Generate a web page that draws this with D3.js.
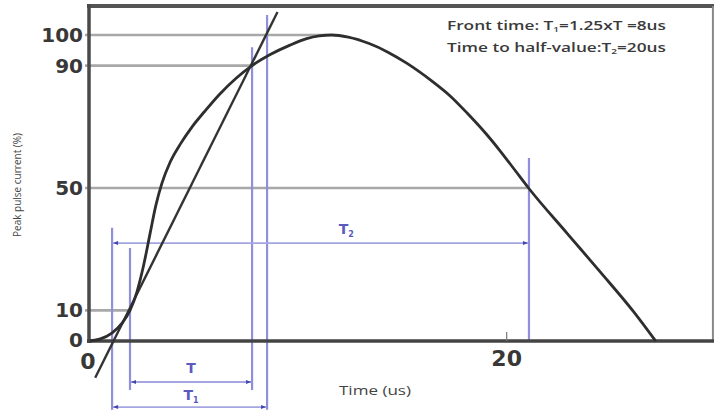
<!DOCTYPE html>
<html><head><meta charset="utf-8">
<script src="https://cdn.jsdelivr.net/npm/d3@7"></script>
<style>body{margin:0;background:#fff}svg{display:block}</style>
</head><body>
<svg id="c" width="714" height="415"></svg>
<script>
// ---- data ----
const timeTicks = [0, 20];
const currentTicks = [0, 10, 50, 90, 100];
const pulseTime    = [0, 0.5, 1.05, 1.55, 1.92, 2.25, 2.55, 2.88, 3.15, 3.45, 3.85, 4.35, 4.9, 5.5, 6.2, 7.0, 7.78, 8.65, 9.6, 10.4, 11.0, 11.6, 12.4, 13.4, 14.3, 15.2, 16.4, 17.3, 18.1, 19.0, 19.7, 20.4, 21.05, 22.9, 24.5, 26.1, 27.15];
const pulseCurrent = [0, 0.7, 2.6, 5.9, 10, 16, 24, 35, 44, 51.5, 58.5, 64.5, 70, 75, 80.5, 85.8, 90, 93.6, 96.7, 98.8, 99.7, 100, 99.3, 97.2, 94.4, 90.8, 85, 80, 74.5, 67.8, 62, 55.8, 50, 35.2, 22.5, 9.5, 0];
const tangentTime = [0.25, 9.0];
const tangentCurrent = [-12, 107.5];
const gridLevels = [100, 90, 50, 10];
const gridEnds = [11.3, 7.78, 21.07, 1.92];
const markerTimes = [1.06, 1.92, 7.78, 8.5, 21.07];
const markerTops = [37, 30.4, 96, 106.5, 59.8];
const markerBottoms = [-22.5, -16, -16, -22.5, 0];
const spanNames = ["T", "T", "T"];
const spanSubs = ["2", "", "1"];
const spanStart = [1.06, 1.92, 1.06];
const spanEnd = [21.07, 7.78, 8.5];
const spanLevel = [32, -13.4, -21.6];
const labelTime = [12.3, 4.85, 4.85];
const labelLevel = [36.5, -8.7, -17.7];
const noteLines = [["Front time: T", "1", "=1.25xT =8us"], ["Time to half-value:T", "2", "=20us"]];
const xTitle = "Time (us)";
const yTitle = "Peak pulse current (%)";

// ---- scales ----
const svg = d3.select("#c");
const x = d3.scaleLinear().domain([0, 30]).range([90, 715]);
const y = d3.scaleLinear().domain([0, 100]).range([341, 35]);
const blue = "#8f8fdc";

// markers
const defs = svg.append("defs");
defs.append("marker").attr("id", "arr").attr("viewBox", "0 0 10 10")
  .attr("refX", 10).attr("refY", 5).attr("markerWidth", 9).attr("markerHeight", 5)
  .attr("markerUnits", "userSpaceOnUse").attr("orient", "auto-start-reverse")
  .append("path").attr("d", "M0,1 L10,5 L0,9 Z").attr("fill", "#4444b0");

// gridlines
svg.selectAll(".grid").data(gridLevels).join("line")
  .attr("x1", x(0) - 5).attr("x2", (d, i) => x(gridEnds[i]))
  .attr("y1", d => y(d)).attr("y2", d => y(d))
  .attr("stroke", "#a8a8a8").attr("stroke-width", 2.6);

// blue verticals
svg.selectAll(".mk").data(markerTimes).join("line")
  .attr("x1", d => x(d)).attr("x2", d => x(d))
  .attr("y1", (d, i) => y(markerTops[i])).attr("y2", (d, i) => y(markerBottoms[i]))
  .attr("stroke", blue).attr("stroke-width", 2.2);

// spans with arrows
svg.selectAll(".sp").data(spanStart).join("line")
  .attr("x1", d => x(d) + 1).attr("x2", (d, i) => x(spanEnd[i]) - 1)
  .attr("y1", (d, i) => y(spanLevel[i])).attr("y2", (d, i) => y(spanLevel[i]))
  .attr("stroke", "#a5a5e2").attr("stroke-width", 1.8)
  .attr("marker-start", "url(#arr)").attr("marker-end", "url(#arr)");

const lab = svg.selectAll(".lb").data(spanNames).join("text")
  .attr("x", (d, i) => x(labelTime[i])).attr("y", (d, i) => y(labelLevel[i]))
  .attr("text-anchor", "middle").attr("dominant-baseline", "central")
  .attr("font-family", "DejaVu Sans").attr("font-weight", "bold").attr("font-size", 14)
  .attr("fill", "#5a5abf");
lab.append("tspan").text(d => d);
lab.append("tspan").attr("font-size", 8).attr("dy", 5).text((d, i) => spanSubs[i]);

// frame
svg.append("line").attr("x1", 87).attr("x2", 714).attr("y1", y(109.5)).attr("y2", y(109.5))
  .attr("stroke", "#555").attr("stroke-width", 4);
svg.append("line").attr("x1", x(29.9)).attr("x2", x(29.9)).attr("y1", y(109.5)).attr("y2", y(0))
  .attr("stroke", "#888").attr("stroke-width", 2);
svg.append("line").attr("x1", x(0) - 1).attr("x2", x(0) - 1).attr("y1", y(109.5) - 2).attr("y2", y(0) + 2)
  .attr("stroke", "#4a4a4a").attr("stroke-width", 3.5);
svg.append("line").attr("x1", x(0) - 3).attr("x2", 714).attr("y1", y(0)).attr("y2", y(0))
  .attr("stroke", "#444").attr("stroke-width", 3.5);

// x tick mark
svg.selectAll(".xt").data(timeTicks.filter(d => d > 0)).join("line")
  .attr("x1", d => x(d)).attr("x2", d => x(d)).attr("y1", y(0)).attr("y2", y(0) - 9)
  .attr("stroke", "#777").attr("stroke-width", 1.2);

// tangent line
svg.append("line")
  .attr("x1", x(tangentTime[0])).attr("y1", y(tangentCurrent[0]))
  .attr("x2", x(tangentTime[1])).attr("y2", y(tangentCurrent[1]))
  .attr("stroke", "#333").attr("stroke-width", 2.4);

// pulse curve
const pts = pulseTime.map((t, i) => [t, pulseCurrent[i]]);
svg.append("path").datum(pts)
  .attr("d", d3.line().x(d => x(d[0])).y(d => y(d[1])).curve(d3.curveMonotoneX))
  .attr("fill", "none").attr("stroke", "#2e2e2e").attr("stroke-width", 2.8);

// y tick labels
svg.selectAll(".yl").data(currentTicks).join("text")
  .attr("x", 83).attr("y", d => y(d) + (d === 0 ? -1 : 0))
  .attr("text-anchor", "end").attr("dominant-baseline", "central")
  .attr("font-family", "DejaVu Sans").attr("font-weight", "bold").attr("font-size", 20)
  .attr("fill", "#383838").text(d => d);

// x tick labels
svg.selectAll(".xl").data(timeTicks).join("text")
  .attr("x", d => x(d) + (d === 0 ? -2 : 0)).attr("y", d => y(0) + (d === 0 ? 20 : 17))
  .attr("text-anchor", "middle").attr("dominant-baseline", "central")
  .attr("font-family", "DejaVu Sans").attr("font-weight", "bold").attr("font-size", 22)
  .attr("fill", "#383838").text(d => d);

// axis titles
svg.append("text").attr("x", 375).attr("y", 390)
  .attr("text-anchor", "middle").attr("dominant-baseline", "central")
  .attr("font-family", "Open Sans").attr("font-size", 12).attr("fill", "#444")
  .attr("textLength", 72).attr("lengthAdjust", "spacingAndGlyphs").text(xTitle);
svg.append("text").attr("transform", "translate(17,185) rotate(-90)")
  .attr("text-anchor", "middle").attr("dominant-baseline", "central")
  .attr("font-family", "Open Sans").attr("font-size", 10).attr("fill", "#444")
  .attr("textLength", 104).attr("lengthAdjust", "spacingAndGlyphs").text(yTitle);

// note text
const notes = svg.selectAll(".nt").data(noteLines).join("text")
  .attr("x", 447).attr("y", (d, i) => 25 + i * 22)
  .attr("dominant-baseline", "central")
  .attr("font-family", "Open Sans").attr("font-weight", 600).attr("font-size", 12)
  .attr("fill", "#3a3a3a").attr("textLength", 219).attr("lengthAdjust", "spacingAndGlyphs");
notes.append("tspan").text(d => d[0]);
notes.append("tspan").attr("font-size", 7).attr("dy", 4).text(d => d[1]);
notes.append("tspan").attr("dy", -4).text(d => d[2]);
</script>
</body></html>
